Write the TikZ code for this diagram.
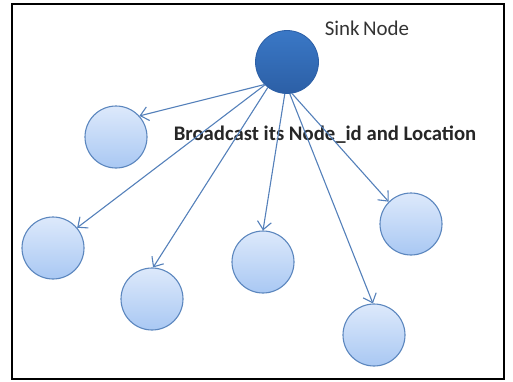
\documentclass[tikz,border=0pt]{standalone}
\usepackage{fontspec}
\setmainfont{Carlito}
\usetikzlibrary{arrows.meta}
\definecolor{sinkblue}{HTML}{3A78C6}
\definecolor{sinkdark}{HTML}{2C5FA6}
\definecolor{rimblue}{HTML}{5B86BE}
\definecolor{paletop}{HTML}{DDE9FB}
\definecolor{palebot}{HTML}{A9C8F3}
\definecolor{linkblue}{HTML}{5480BA}
\tikzset{
  sensor/.style={circle, minimum size=62bp, inner sep=0pt, draw=rimblue, line width=1.1bp,
    top color=paletop, bottom color=palebot},
  sink/.style={circle, minimum size=63bp, inner sep=0pt, draw=sinkdark, line width=0.8bp,
    top color=sinkblue, bottom color=sinkdark},
  link/.style={draw=linkblue, line width=1.1bp, -{Straight Barb[length=8bp,width=14bp]}}
}
\begin{document}
\begin{tikzpicture}[x=1bp, y=-1bp]
\useasboundingbox (0,0) rectangle (513,381);
\draw[line width=1.4bp] (12,4) rectangle (504,379);

\node[sink] (sink) at (287,62) {};
\node[font=\fontsize{21}{24}\selectfont, text=black!80] (sinklabel) at (367,28) {Sink\,Node};

% sensor nodes
\foreach \name/\x/\y in {a/116/137, b/53/248, c/152/299, d/263/262, e/374/335, f/411/224} {
  \node[sensor] (\name) at (\x,\y) {};
}

\node[font=\bfseries\fontsize{20.8}{24}\selectfont, text=black!85] (msg) at (325,135) {Broadcast its Node\_id and Location};

% broadcast links
\foreach \name/\from/\to in {a/225/42, b/226/40, c/233/88, d/266/90, e/275/92, f/279/135} {
  \draw[link] (sink.\from) -- (\name.\to);
}
\end{tikzpicture}
\end{document}
